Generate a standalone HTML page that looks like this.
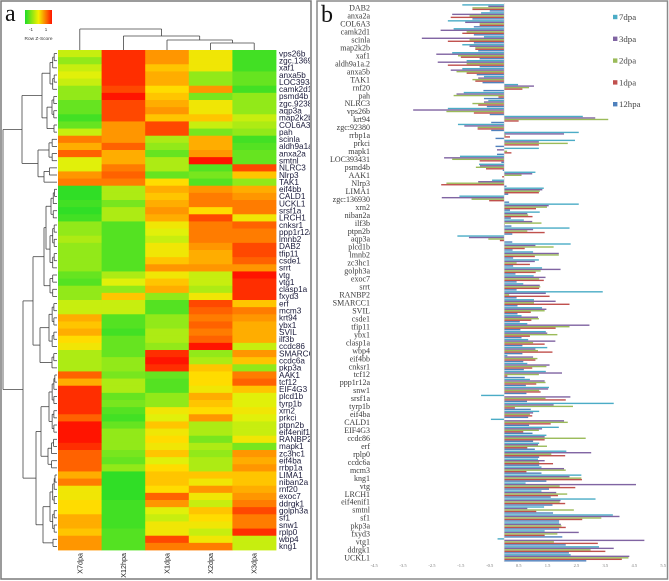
<!DOCTYPE html>
<html><head><meta charset="utf-8">
<style>
html,body{margin:0;padding:0;background:#fff;}
svg{display:block;}
</style></head>
<body>
<svg id="fig" width="669" height="581" viewBox="0 0 669 581" xmlns="http://www.w3.org/2000/svg">
  <defs>
    <linearGradient id="zgrad" x1="0" x2="1" y1="0" y2="0">
      <stop offset="0" stop-color="#1edc28"/>
      <stop offset="0.5" stop-color="#f5f000"/>
      <stop offset="1" stop-color="#ff1400"/>
    </linearGradient>
    <clipPath id="clipA"><rect x="2" y="2" width="308" height="576"/></clipPath>
  </defs>
  <rect x="1" y="1" width="310" height="578" fill="#fff" stroke="#7a7a7a" stroke-width="1.5"/>
  <rect x="317" y="1" width="350.5" height="578" fill="#fff" stroke="#8a8a8a" stroke-width="1.5"/>
  <text x="5" y="21" font-family="Liberation Serif, serif" font-size="24" fill="#111">a</text>
  <text x="321" y="22" font-family="Liberation Serif, serif" font-size="24" fill="#111">b</text>
  <g>
    <rect x="25" y="10" width="27" height="14" fill="url(#zgrad)"/>
    <text x="31" y="31" font-family="Liberation Sans, sans-serif" font-size="4.5" fill="#333" text-anchor="middle">-1</text>
    <text x="46" y="31" font-family="Liberation Sans, sans-serif" font-size="4.5" fill="#333" text-anchor="middle">1</text>
    <text x="38.5" y="40" font-family="Liberation Sans, sans-serif" font-size="4.8" fill="#333" text-anchor="middle">Row Z-Score</text>
  </g>
  <g id="heat" clip-path="url(#clipA)"></g>
  <g id="dendro"></g>
  <g id="bars"></g>
</svg>
<script>
// ---------- Heatmap data ----------
const heatCols = ["X7dpa","X12hpa","X1dpa","X2dpa","X3dpa"];
const heatRows = ["vps26b","zgc.136930","xaf1","anxa5b","LOC393431","camk2d1","psmd4b","zgc.92380","aqp3a","map2k2b","COL6A3","pah","scinla","aldh9a1a","anxa2a","smtnl","NLRC3","Nlrp3","TAK1","eif4bb","CALD1","UCKL1","srsf1a","LRCH1","cnksr1","ppp1r12a","lmnb2","DAB2","tfip11","csde1","srrt","vtg","vtg1","clasp1a","fxyd3","erf","mcm3","krt94","ybx1","SVIL","ilf3b","ccdc86","SMARCC1","ccdc6a","pkp3a","AAK1","tcf12","EIF4G3","plcd1b","tyrp1b","xrn2","prkci","ptpn2b","eif4enif1","RANBP2","mapk1","zc3hc1","eif4ba","rrbp1a","LIMA1","niban2a","rnf20","exoc7","ddrgk1","golph3a","sf1","snw1","rplp0","wbp4","kng1"];
// levels 0 (green) .. 9.5 (red), per row: X7dpa, X12hpa, X1dpa, X2dpa, X3dpa
const heatVals = [
[4,9,7,5,1],[3,9,7,5,1],[4,9,6,5,1],[4.5,9,6.5,3,2],[4,9,6.5,3,2],[3,8.5,5.5,7,1],[3,9.5,6,2.5,3],[2,8.5,6.5,5,3],[2,8.5,7,5,3],[1,8.5,6,6,4],
[2,7,8.5,4,3.5],[4,7,8.5,2.5,3],[7.5,7,3.5,6.5,1],[6.5,8,3,6.5,1.5],[8,6.5,2,7,2],[4.5,6.5,3.5,9.5,2],[4.5,7.5,3.5,1.5,8.5],[7,8,2,2.5,6],[7.5,7.5,5.5,1.5,3],
[0.5,3.5,6.5,7,6.5],[0.5,3.5,6,7.5,7],[1,2.5,6.5,7.5,7.5],[0.5,3.5,7,5.5,7.5],[1,3.5,6.5,8.5,5],[3,1.5,5,7.5,8],[3,1.5,4.5,7.5,7.5],[3.5,1.5,4,7.5,7.5],[3,1.5,5,7,8.5],[3,1.5,5,6.5,8.5],[3,1.5,6,6.5,8],[3,1.5,7,7,7],
[2,3.5,5,4,9.5],[1.5,4.5,6,4,9],[3,3,6.5,3.5,9],[3,6,3,5,9],
[4,4,1.5,8.5,6],[4,4,1.5,8,7.5],[6.5,1.5,3,7.5,7],[6,1.5,3,8,6.5],[6.5,1,3.5,7.5,6.5],[5.5,2,3.5,8,6.5],[5,2,3,9.5,4],[3.5,2,9,3,7],[3.5,3,9.5,3.5,6],[3.5,3,9,6,3],
[8,2.5,2,5.5,7.5],[6.5,3.5,1.5,5.5,8],[9,3.5,1.5,5,6],[9,2,3,6.5,4.5],[9,2.5,3,6,4.5],[9,1.5,5,5.5,5],[8,1,4.5,7,4.5],[9.5,2,6,3.5,4],[9.5,3,5,3.5,4],[9.5,3,5.5,2.5,5],[9,3,5,3.5,2.5],[8,2.5,6,3,7],[8,2,4.5,3.5,6.5],[8,3,5.5,3.5,7],
[6.5,0.5,6,6,6],[7.5,0.5,6,5,6],[5,0.5,5.5,7,6.5],[5,0.5,8,5,7],[5.5,1,7,4,7.5],[5.5,1,4.5,6,8.5],[6.5,1,4,5.5,7.5],[6.5,1,5,5,7.5],[6,1.5,5,4,9],[7,1.5,8.5,5,4],[7,1.5,7.5,7.5,4]
];

// ---------- Bar chart data ----------
const barGenes = ["DAB2","anxa2a","COL6A3","camk2d1","scinla","map2k2b","xaf1","aldh9a1a.2","anxa5b","TAK1","rnf20","pah","NLRC3","vps26b","krt94","zgc:92380","rrbp1a","prkci","mapk1","LOC393431","psmd4b","AAK1","Nlrp3","LIMA1","zgc:136930","xrn2","niban2a","ilf3b","ptpn2b","aqp3a","plcd1b","lmnb2","zc3hc1","golph3a","exoc7","srrt","RANBP2","SMARCC1","SVIL","csde1","tfip11","ybx1","clasp1a","wbp4","eif4bb","cnksr1","tcf12","ppp1r12a","snw1","srsf1a","tyrp1b","eif4ba","CALD1","EIF4G3","ccdc86","erf","rplp0","ccdc6a","mcm3","kng1","vtg","LRCH1","eif4enif1","smtnl","sf1","pkp3a","fxyd3","vtg1","ddrgk1","UCKL1"];
const seriesNames = ["7dpa","3dpa","2dpa","1dpa","12hpa"];
const seriesColors = ["#4bacc6","#8064a2","#9bbb59","#c0504d","#4f81bd"];
const val7dpa = [-1.45,-0.8,-1.95,-1.75,-0.7,-1.45,-1.8,-1.3,-1.45,-0.7,0.48,-1.4,-0.55,-1.95,2.72,-1.6,2.58,2.45,1.2,-1.53,-0.87,1.08,-0.42,1.37,-1.55,2.58,1.23,0.68,2.26,-1.62,2.3,1.0,1.2,1.31,1.02,0.66,3.41,1.03,1.31,0.6,0.8,1.44,0.83,1.49,0.11,0.8,1.44,0.89,1.55,-0.8,3.79,1.21,-0.46,1.89,1.46,1.21,2.15,1.17,1.29,2.67,0.74,1.29,3.16,1.38,3.76,1.9,1.4,-0.23,3.28,2.3];
const val3dpa = [-0.55,-1.8,-1.35,-2.2,-2.85,-1.2,-2.35,-2.3,-1.85,-0.9,1.03,-1.65,-0.7,-3.15,3.15,-1.38,2.07,1.2,-0.25,-2.08,-0.84,0.97,-0.9,1.32,-2.16,1.54,0.8,0.97,1.0,-1.22,1.08,1.89,1.06,1.95,1.43,1.23,1.44,1.78,1.46,1.17,2.95,1.49,1.77,1.08,1.0,1.57,2.0,1.4,1.52,2.29,1.71,1.0,2.07,1.31,1.4,1.17,3.01,1.4,2.07,2.26,4.56,1.8,1.95,0.8,3.99,1.96,2.58,4.85,3.79,4.33];
const val2dpa = [-1.1,-1.2,-0.85,-1.3,-1.2,-1.0,-1.6,-1.3,-1.65,-1.1,0.86,-1.75,-1.1,-2.0,3.6,-0.92,0.05,2.2,0.1,-1.8,-0.98,0.6,-2.0,1.23,-1.13,1.48,0.83,1.29,0.8,-0.55,1.71,1.89,0.43,1.26,1.21,1.25,0.17,1.03,1.4,1.2,2.26,1.84,1.0,1.17,1.15,1.46,1.2,1.43,1.21,1.43,2.38,0.89,2.2,1.2,2.82,1.48,1.63,1.21,2.13,2.67,1.92,2.18,1.92,2.41,3.36,1.98,1.84,1.72,2.99,4.3];
const val1dpa = [-1.1,-1.85,-0.85,-1.45,-1.95,-1.0,-1.5,-1.95,-1.3,-1.0,0.63,-0.2,-0.9,-1.05,0.5,-0.92,0.2,1.2,0.25,-0.85,-0.63,-0.07,-2.18,1.2,-0.52,1.1,0.98,0.02,1.4,-0.15,0.71,1.06,0.89,1.09,1.37,1.21,1.57,2.26,0.92,0.94,1.78,0.89,1.4,1.67,1.08,0.97,0.11,1.11,1.26,2.13,0.37,0.97,1.61,0.66,1.4,0.8,2.11,1.69,0.77,2.69,2.46,1.86,2.11,1.11,2.7,2.13,1.4,3.24,3.5,4.07];
const val12hpa = [-0.5,-1.1,-1.05,-1.05,-1.05,-0.9,-0.85,-0.85,-0.95,-0.75,-0.72,-0.7,-0.6,-0.5,-0.45,-0.45,-0.3,-0.3,-0.25,-0.1,-0.05,0.0,0.08,0.14,0.17,0.2,0.23,0.25,0.28,0.28,0.29,0.31,0.31,0.39,0.43,0.43,0.43,0.46,0.46,0.54,0.56,0.6,0.63,0.63,0.66,0.68,0.71,0.75,0.77,0.79,0.92,0.83,0.86,0.98,1.0,1.06,1.21,1.21,1.29,1.46,1.55,1.61,1.67,1.69,1.9,1.9,2.01,2.13,2.24,2.84];
const xTicks = [-4.5,-3.5,-2.5,-1.5,-0.5,0.5,1.5,2.5,3.5,4.5,5.5];

const NS = "http://www.w3.org/2000/svg";
function mk(tag, attrs, parent){ const e=document.createElementNS(NS,tag); for(const k in attrs) e.setAttribute(k,attrs[k]); parent.appendChild(e); return e; }

// ---------- Heatmap ----------
const hx0=58, hx1=276, hy0=50, hy1=550;
const cw=(hx1-hx0)/heatCols.length, rh=(hy1-hy0)/heatRows.length;
function colX(i){ return hx0+i*cw; }
function rowY(i){ return hy0+i*rh; }
const stops=[[0,[30,220,40]],[2.5,[120,230,30]],[4.5,[225,240,10]],[5.5,[255,220,0]],[7,[255,150,0]],[9.5,[255,20,0]]];
function colorOf(v){
  if(v<=stops[0][0]) return "rgb("+stops[0][1].join(",")+")";
  for(let i=1;i<stops.length;i++){
    if(v<=stops[i][0]){
      const [a,ca]=stops[i-1],[b,cb]=stops[i]; const t=(v-a)/(b-a);
      return "rgb("+ca.map((c,j)=>Math.round(c+(cb[j]-c)*t)).join(",")+")";
    }
  }
  return "rgb(255,20,0)";
}
const heat=document.getElementById("heat");
heatVals.forEach((row,r)=>{
  row.forEach((v,c)=>{
    const rc=mk("rect",{x:colX(c),y:rowY(r),width:cw+0.4,height:rh+0.4,fill:colorOf(v)},heat);
    
    
  });
  const t=mk("text",{x:hx1+3,y:rowY(r)+rh/2+2.8,"font-family":"Liberation Sans, sans-serif","font-size":"8.2",fill:"#1a1a3a"},heat);
  t.textContent=heatRows[r];
  
  
});
heatCols.forEach((n,c)=>{
  const cx=colX(c)+cw/2+2.5;
  const t=mk("text",{x:cx,y:553,"text-anchor":"end","font-family":"Liberation Sans, sans-serif","font-size":"7.2",fill:"#222",transform:"rotate(-90 "+cx+" 553)"},heat);
  t.textContent=n;
  
  
});

// ---------- Dendrograms ----------
const dg=document.getElementById("dendro");
function line(x1,y1,x2,y2){ const l=mk("line",{x1:x1,y1:y1,x2:x2,y2:y2,stroke:"#444","stroke-width":"0.8"},dg);   }
function chain(a,b,h){
  if(a===b) return a;
  const m=Math.floor((a+b)/2);
  const hh=h+(56-h)*0.45;
  return {h:h,c:[chain(a,m,hh),chain(m+1,b,hh)]};
}
const rowTree={h:3,c:[
  {h:22,c:[
    {h:42,c:[chain(0,5,50),{h:47,c:[chain(6,9,52),chain(10,11,54)]}]},
    {h:38,c:[chain(12,15,49),chain(16,18,44)]}]},
  {h:23,c:[
    {h:33,c:[{h:44,c:[{h:46,c:[chain(19,23,51),chain(24,30,50)]},chain(31,34,50)]},{h:40,c:[chain(35,41,49),chain(42,44,52)]}]},
    {h:36,c:[{h:41,c:[chain(45,53,49),chain(54,58,48)]},{h:43,c:[chain(59,67,50),chain(68,69,53)]}]}]}]};
function drawRow(n){
  if(typeof n==="number") return {p:rowY(n)+rh/2,h:57};
  const ch=n.c.map(drawRow);
  ch.forEach(k=>line(n.h,k.p,k.h,k.p));
  line(n.h,ch[0].p,n.h,ch[ch.length-1].p);
  return {p:(ch[0].p+ch[ch.length-1].p)/2,h:n.h};
}
drawRow(rowTree);
const colTree={h:29,c:[0,{h:36,c:[1,{h:40,c:[2,{h:43,c:[3,4]}]}]}]};
function drawCol(n){
  if(typeof n==="number") return {p:colX(n)+cw/2,h:50};
  const ch=n.c.map(drawCol);
  ch.forEach(k=>line(k.p,n.h,k.p,k.h));
  line(ch[0].p,n.h,ch[ch.length-1].p,n.h);
  return {p:(ch[0].p+ch[ch.length-1].p)/2,h:n.h};
}
drawCol(colTree);

// ---------- Bar chart ----------
const bg=document.getElementById("bars");
const zeroX=504.2, pxPerUnit=28.9, by0=8, rowStep=7.97;
function xScale(v){ return zeroX+v*pxPerUnit; }
function yScale(i){ return by0+i*rowStep; }
const series=[val7dpa,val3dpa,val2dpa,val1dpa,val12hpa];
barGenes.forEach((g,i)=>{
  const cy=yScale(i);
  const t=mk("text",{x:370,y:cy+2.6,"text-anchor":"end","font-family":"Liberation Serif, serif","font-size":"8",fill:"#3a3a3a"},bg);
  t.textContent=g;
  
  
  series.forEach((s,k)=>{
    const v=s[i]; const x0=xScale(0), x1=xScale(v);
    const r=mk("rect",{x:Math.min(x0,x1),y:cy-3.8+k*1.5,width:Math.abs(x1-x0),height:1.4,fill:seriesColors[k]},bg);
    
    
  });
});
const axis=mk("line",{x1:zeroX,y1:3,x2:zeroX,y2:562,stroke:"#d8d8d8","stroke-width":"0.6"},bg);


xTicks.forEach(v=>{
  const t=mk("text",{x:xScale(v),y:567,"text-anchor":"middle","font-family":"Liberation Serif, serif","font-size":"4.5",fill:"#777"},bg);
  t.textContent=v;
  
  
});
seriesNames.forEach((n,k)=>{
  const y=17+k*21.8;
  const s=mk("rect",{x:613,y:y-2.2,width:4.4,height:4.4,fill:seriesColors[k]},bg);
  
  
  const t=mk("text",{x:619,y:y+3,"font-family":"Liberation Serif, serif","font-size":"8.8",fill:"#444"},bg);
  t.textContent=n;
  
  
});
</script>
</body></html>
